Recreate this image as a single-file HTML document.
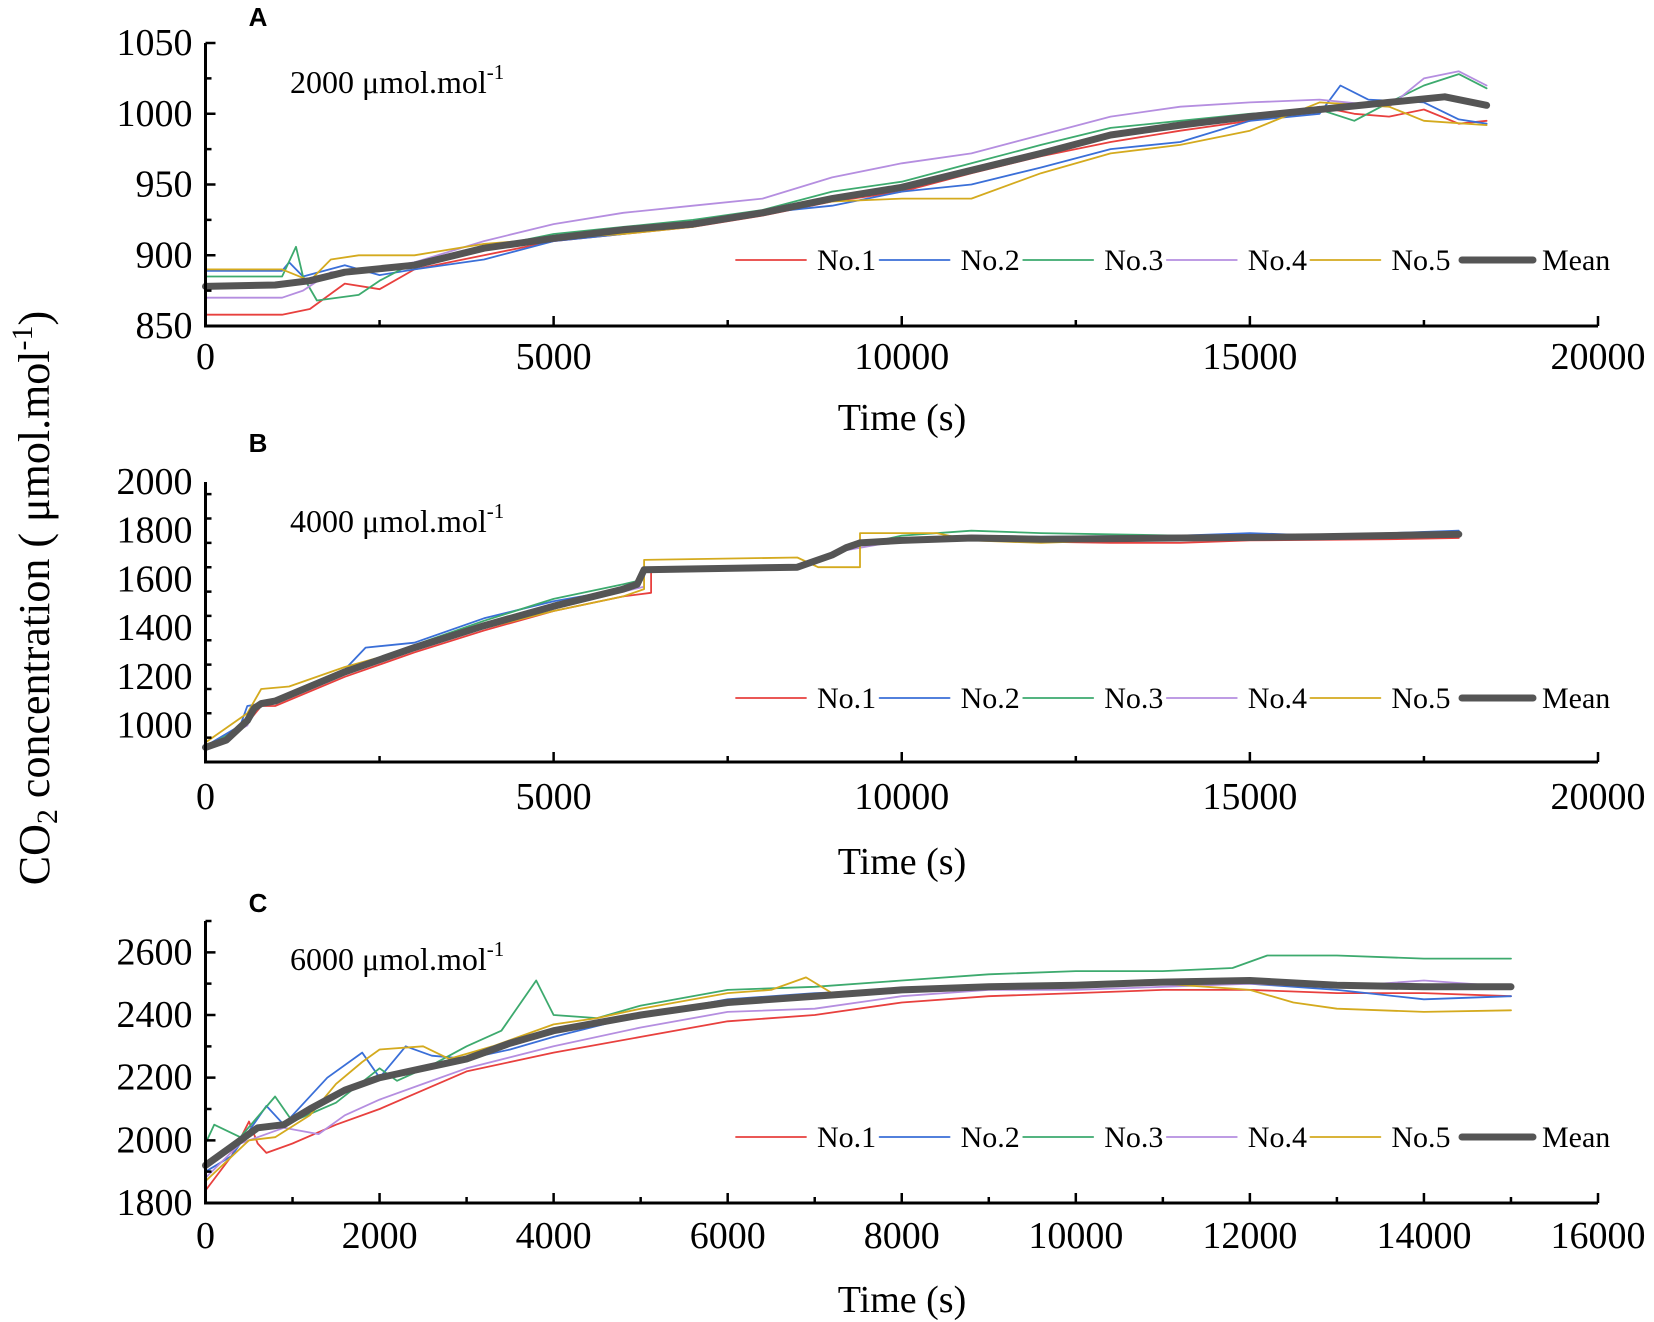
<!DOCTYPE html>
<html><head><meta charset="utf-8"><style>
html,body{margin:0;padding:0;background:#fff;}
svg{display:block;font-family:"Liberation Serif",serif;}
</style></head><body>
<svg id="fig" width="1654" height="1322" viewBox="0 0 1654 1322" xmlns="http://www.w3.org/2000/svg">
<text transform="translate(49,598) rotate(-90)" text-anchor="middle" font-size="44">CO<tspan font-size="30" dy="8">2</tspan><tspan dy="-8"> concentration ( μmol.mol</tspan><tspan font-size="30" dy="-17">-1</tspan><tspan dy="17">)</tspan></text>
</svg>
<script>
const colors=["#e8403e","#3a6fd8","#3daa6e","#b58ee0","#d4aa1e","#555555"];
const seriesNames=["No.1","No.2","No.3","No.4","No.5","Mean"];
// Panel A data [time, value]
const aNo1=[[0,858],[1100,858],[1500,862],[2000,880],[2500,876],[3000,890],[4000,900],[5000,910],[6000,915],[7000,920],[8000,928],[9000,938],[10000,945],[11000,958],[12000,970],[13000,980],[14000,988],[15000,995],[16000,1005],[16500,1000],[17000,998],[17500,1003],[18000,993],[18400,995]];
const aNo2=[[0,889],[1100,889],[1200,895],[1400,885],[2000,893],[2500,886],[3000,890],[4000,897],[5000,910],[6000,915],[7000,922],[8000,930],[9000,935],[10000,945],[11000,950],[12000,962],[13000,975],[14000,980],[15000,995],[16000,1000],[16300,1020],[16700,1010],[17500,1008],[18000,996],[18400,993]];
const aNo3=[[0,885],[1100,885],[1300,906],[1400,885],[1600,868],[2200,872],[2500,882],[3000,895],[4000,905],[5000,915],[6000,920],[7000,925],[8000,932],[9000,945],[10000,952],[11000,965],[12000,978],[13000,990],[14000,995],[15000,1000],[16000,1003],[16500,995],[17000,1008],[17500,1020],[18000,1028],[18400,1018]];
const aNo4=[[0,870],[1100,870],[1400,875],[1800,888],[2200,888],[3000,895],[4000,910],[5000,922],[6000,930],[7000,935],[8000,940],[9000,955],[10000,965],[11000,972],[12000,985],[13000,998],[14000,1005],[15000,1008],[16000,1010],[17000,1005],[17500,1025],[18000,1030],[18400,1020]];
const aNo5=[[0,890],[1100,890],[1500,882],[1800,897],[2200,900],[3000,900],[4000,908],[5000,912],[6000,915],[7000,920],[8000,930],[9000,938],[10000,940],[11000,940],[12000,958],[13000,972],[14000,978],[15000,988],[16000,1008],[17000,1005],[17500,995],[18400,992]];
const aMean=[[0,878],[1000,879],[1500,882],[2000,888],[3000,893],[4000,905],[5000,912],[6000,918],[7000,922],[8000,930],[9000,940],[10000,948],[11000,960],[12000,972],[13000,985],[14000,992],[15000,998],[16000,1003],[17000,1008],[17800,1012],[18400,1006]];
// Panel B data
const bNo1=[[0,905],[600,1010],[800,1080],[1000,1080],[2000,1200],[3000,1300],[4000,1390],[5000,1470],[6000,1530],[6400,1545],[6400,1640],[8500,1645],[9000,1690],[9200,1740],[9400,1760],[11000,1760],[12000,1755],[13000,1750],[14000,1750],[15000,1760],[17000,1765],[18000,1770]];
const bNo2=[[0,915],[500,1000],[600,1080],[800,1090],[1000,1110],[2000,1230],[2300,1320],[3000,1340],[4000,1440],[5000,1510],[6000,1560],[6200,1590],[6300,1640],[8500,1650],[9000,1700],[9300,1750],[11000,1780],[12000,1775],[14000,1780],[15000,1790],[16000,1780],[18000,1800]];
const bNo3=[[0,910],[500,990],[700,1080],[1000,1100],[2000,1230],[3000,1330],[4000,1430],[5000,1520],[6000,1580],[6300,1600],[6300,1640],[8500,1650],[9200,1730],[10000,1780],[11000,1800],[12000,1790],[14000,1780],[16000,1780],[18000,1790]];
const bNo4=[[0,905],[600,1000],[700,1070],[1000,1100],[2000,1220],[3000,1320],[4000,1410],[5000,1490],[6000,1550],[6300,1570],[6300,1640],[8500,1650],[9200,1720],[10000,1760],[12000,1770],[14000,1775],[16000,1780],[18000,1790]];
const bNo5=[[0,930],[600,1050],[800,1150],[1200,1160],[2000,1240],[3000,1320],[4000,1400],[5000,1470],[6000,1530],[6300,1560],[6300,1680],[8500,1690],[8800,1650],[9400,1650],[9400,1790],[10500,1790],[11000,1760],[12000,1750],[14000,1770],[16000,1775],[18000,1780]];
const bMean=[[0,910],[300,940],[600,1020],[700,1070],[800,1090],[1000,1100],[2000,1220],[3000,1320],[4000,1410],[5000,1490],[6000,1560],[6200,1580],[6300,1640],[8500,1650],[9000,1700],[9200,1730],[9400,1750],[10000,1760],[11000,1770],[12000,1765],[14000,1770],[16000,1775],[18000,1785]];
// Panel C data
const cNo1=[[0,1840],[300,1950],[500,2060],[600,1990],[700,1960],[1000,1990],[1500,2050],[2000,2100],[2500,2160],[3000,2220],[3500,2250],[4000,2280],[5000,2330],[6000,2380],[7000,2400],[8000,2440],[9000,2460],[10000,2470],[11000,2480],[12000,2480],[13000,2470],[14000,2470],[15000,2460]];
const cNo2=[[0,1900],[300,1950],[700,2110],[900,2050],[1400,2200],[1800,2280],[2000,2200],[2300,2300],[2600,2270],[3000,2260],[3500,2290],[4000,2330],[5000,2400],[6000,2450],[7000,2470],[8000,2480],[9000,2490],[10000,2495],[11000,2500],[12000,2500],[13000,2480],[14000,2450],[15000,2460]];
const cNo3=[[0,1990],[100,2050],[400,2010],[800,2140],[1000,2060],[1500,2120],[2000,2230],[2200,2190],[2600,2240],[3000,2300],[3400,2350],[3800,2510],[4000,2400],[4500,2390],[5000,2430],[6000,2480],[7000,2490],[8000,2510],[9000,2530],[10000,2540],[11000,2540],[11800,2550],[12200,2590],[13000,2590],[14000,2580],[15000,2580]];
const cNo4=[[0,1880],[400,1990],[600,2010],[900,2040],[1300,2020],[1600,2080],[2000,2130],[2500,2180],[3000,2230],[4000,2300],[5000,2360],[6000,2410],[7000,2420],[8000,2460],[9000,2480],[10000,2480],[11000,2490],[12000,2500],[13000,2490],[14000,2510],[15000,2490]];
const cNo5=[[0,1870],[500,2000],[800,2010],[1200,2080],[1500,2180],[1800,2250],[2000,2290],[2500,2300],[2800,2260],[3300,2300],[3600,2330],[4000,2370],[4500,2390],[5000,2420],[6000,2470],[6500,2480],[6900,2520],[7200,2470],[8000,2480],[9000,2490],[10000,2495],[11000,2500],[12000,2480],[12500,2440],[13000,2420],[14000,2410],[15000,2415]];
const cMean=[[0,1920],[300,1980],[600,2040],[900,2050],[1200,2100],[1600,2160],[2000,2200],[2500,2230],[3000,2260],[3500,2310],[4000,2350],[5000,2400],[6000,2440],[7000,2460],[8000,2480],[9000,2490],[10000,2495],[11000,2505],[12000,2510],[13000,2495],[14000,2490],[15000,2490]];
// Tick labels
const aXTicks=[0,5000,10000,15000,20000];
const aYTicks=[850,900,950,1000,1050];
const bXTicks=[0,5000,10000,15000,20000];
const bYTicks=[1000,1200,1400,1600,1800,2000];
const cXTicks=[0,2000,4000,6000,8000,10000,12000,14000,16000];
const cYTicks=[1800,2000,2200,2400,2600];

const NS="http://www.w3.org/2000/svg";
const svg=document.getElementById('fig');
function mk(tag,attrs,parent){const e=document.createElementNS(NS,tag);for(const k in attrs)e.setAttribute(k,attrs[k]);(parent||svg).appendChild(e);return e;}

const panels=[
 {id:'a',letter:'A',letterY:26,note:'2000',noteY:93,top:43,bottom:326,ymin:850,ymax:1050,xmax:20000,xt:aXTicks,yt:aYTicks,xminor:2500,yminor:25,labY:369,titleY:430,legY:260,data:[aNo1,aNo2,aNo3,aNo4,aNo5,aMean]},
 {id:'b',letter:'B',letterY:452,note:'4000',noteY:532,top:482,bottom:762,ymin:850,ymax:2000,xmax:20000,xt:bXTicks,yt:bYTicks,xminor:2500,yminor:100,labY:809,titleY:874,legY:698,data:[bNo1,bNo2,bNo3,bNo4,bNo5,bMean]},
 {id:'c',letter:'C',letterY:912,note:'6000',noteY:970,top:921,bottom:1203,ymin:1800,ymax:2700,xmax:16000,xt:cXTicks,yt:cYTicks,xminor:1000,yminor:100,labY:1248,titleY:1312,legY:1137,data:[cNo1,cNo2,cNo3,cNo4,cNo5,cMean]}
];
const L=205.5,R=1598;
panels.forEach(p=>{
  const g=mk('g',{});
  
  
  const xs=v=>L+(v/p.xmax)*(R-L);
  const ys=v=>p.bottom-(v-p.ymin)/(p.ymax-p.ymin)*(p.bottom-p.top);
  const y0=p.bottom;
  p.data.forEach((d,i)=>{
    const pts=d.map(q=>xs(q[0]).toFixed(1)+','+ys(q[1]).toFixed(1)).join(' ');
    const pl=mk('polyline',{points:pts,fill:'none',stroke:colors[i],'stroke-width':i==5?7:1.8,'stroke-linejoin':'round','stroke-linecap':'round'},g);
    
    
  });
  const ax=mk('path',{d:`M${L},${p.top} L${L},${y0} L${R},${y0}`,fill:'none',stroke:'#000','stroke-width':3},g);
  
  
  let tk='';
  for(let v=0;v<=p.xmax+1;v+=p.xminor){const x=xs(v);const major=p.xt.indexOf(v)>=0;tk+=`M${x},${y0} L${x},${y0-(major?10:6)} `;}
  for(let v=p.ymin;v<=p.ymax+0.1;v+=p.yminor){const major=p.yt.indexOf(v)>=0;const y=ys(v);tk+=`M${L},${y} L${L+(major?10:6)},${y} `;}
  const tp=mk('path',{d:tk,stroke:'#000','stroke-width':2.5,fill:'none'},g);
  
  
  p.xt.forEach(v=>{const t=mk('text',{x:xs(v),y:p.labY,'text-anchor':'middle','font-size':38},g);t.textContent=v;
    
    });
  p.yt.forEach(v=>{const t=mk('text',{x:L-13,y:ys(v)+12,'text-anchor':'end','font-size':38},g);t.textContent=v;
    
    });
  const xt=mk('text',{x:902,y:p.titleY,'text-anchor':'middle','font-size':38},g);xt.textContent='Time (s)';
  
  
  const lt=mk('text',{x:258,y:p.letterY,'text-anchor':'middle','font-size':26,'font-weight':'bold','font-family':'Liberation Sans, sans-serif'},g);lt.textContent=p.letter;
  
  
  const nt=mk('text',{x:290,y:p.noteY,'font-size':32},g);
  nt.innerHTML=p.note+' μmol.mol<tspan font-size="21" dy="-14">-1</tspan>';
  
  
  seriesNames.forEach((n,i)=>{
    const lx=i<5?736+i*143.6:1462;
    const lg=mk('g',{},g);
    
    
    mk('line',{x1:lx,y1:p.legY,x2:lx+(i<5?70:71),y2:p.legY,stroke:colors[i],'stroke-width':i==5?7:1.8,'stroke-linecap':'round'},lg);
    const t=mk('text',{x:i<5?lx+81:1542,y:p.legY+10,'font-size':30},lg);t.textContent=n;
  });
});
</script>
</body></html>
